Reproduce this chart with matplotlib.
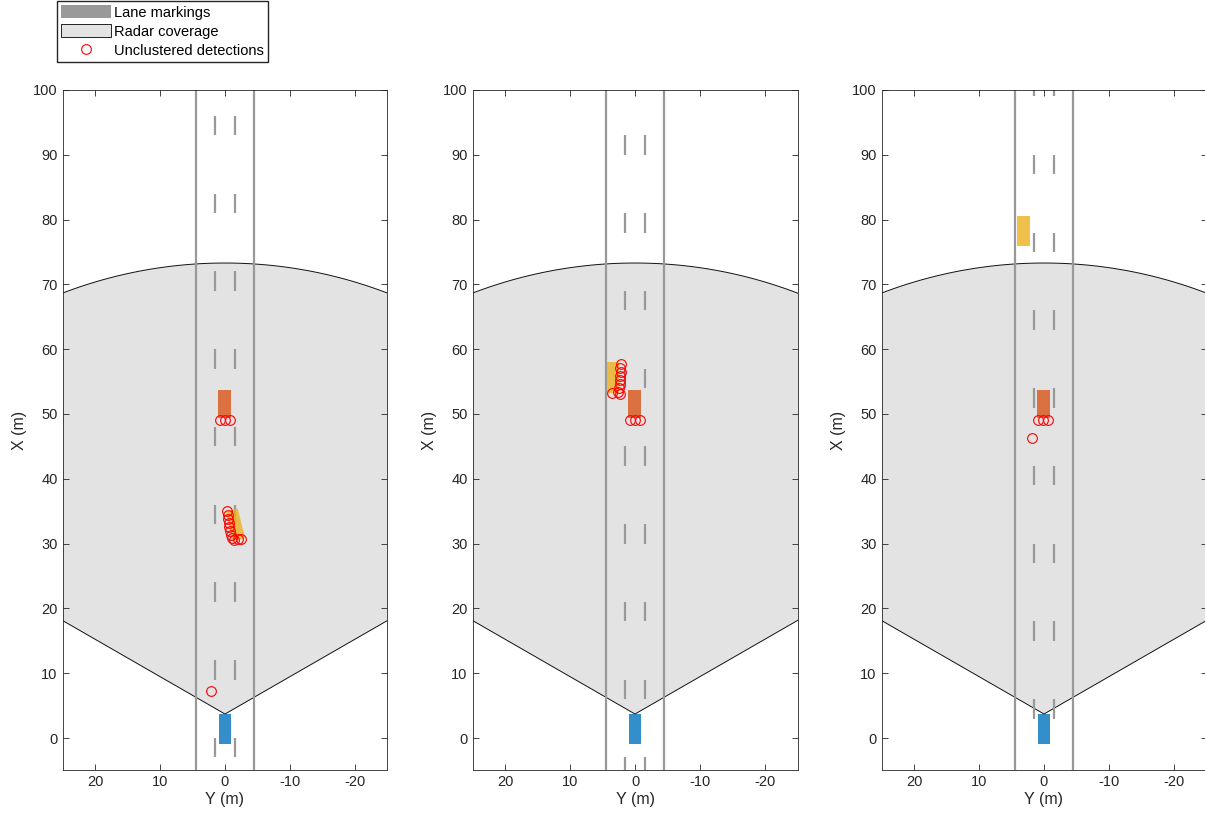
import numpy as np
import matplotlib.pyplot as plt
from matplotlib.patches import Polygon, Patch
from matplotlib.lines import Line2D

plt.rcParams['font.family'] = ['Liberation Sans', 'DejaVu Sans']
plt.rcParams['axes.unicode_minus'] = False

# radar coverage (same in all panels)
radar_pos = 3.7          # X position of radar (m)
radar_range = 69.6       # m
radar_fov = 120          # deg

# lane geometry
lane_edges = [4.5, -4.5]
lane_dash_y = [1.5, -1.5]
dash_len = 3
dash_period = 12
dash_start = [-3, -6, 3]   # first dash start X per panel

# ego vehicle
ego_x, ego_y, ego_len, ego_w = 1.35, 0.0, 4.7, 1.8

# other vehicles per panel: center X, center Y, length, width, yaw (deg)
red_cars = [(51.5, 0.1, 4.3, 1.9, 0), (51.5, 0.1, 4.3, 1.9, 0), (51.5, 0.1, 4.3, 1.9, 0)]
yellow_cars = [(32.9, -1.6, 4.7, 1.9, 14), (55.6, 3.4, 4.7, 1.8, 0), (78.2, 3.15, 4.6, 1.9, 0)]

# unclustered detections per panel (X, Y)
det_x = [
    [35.0, 34.4, 33.8, 33.2, 32.6, 31.9, 31.3, 30.9, 30.6, 30.7, 30.7, 49.1, 49.1, 49.1, 7.25],
    [57.7, 57.1, 56.5, 55.9, 55.2, 54.6, 54.0, 53.4, 53.1, 53.2, 49.1, 49.1, 49.1],
    [49.1, 49.1, 49.1, 46.3],
]
det_y = [
    [-0.31, -0.46, -0.46, -0.62, -0.62, -0.77, -0.92, -1.08, -1.38, -2.0, -2.46, 0.8, 0.0, -0.8, 2.15],
    [2.15, 2.3, 2.15, 2.3, 2.3, 2.3, 2.45, 2.6, 2.3, 3.55, 0.8, 0.0, -0.8],
    [0.9, 0.15, -0.6, 1.85],
]

blue = (0, 0.447, 0.741)
red = (0.85, 0.325, 0.098)
yellow = (0.929, 0.694, 0.125)
lane_col = '#999999'
cov_col = '#E3E3E3'


def car_poly(cx, cy, length, width, yaw):
    # corners in (X, Y) then swap to plot coords (Y horizontal, X vertical)
    a = np.deg2rad(yaw)
    pts = np.array([[length / 2, width / 2], [length / 2, -width / 2],
                    [-length / 2, -width / 2], [-length / 2, width / 2]])
    rot = np.array([[np.cos(a), -np.sin(a)], [np.sin(a), np.cos(a)]])
    pts = pts @ rot.T + [cx, cy]
    return pts[:, ::-1]


fig = plt.figure(figsize=(12.05, 8.25), dpi=100)
lefts = [62.5, 472.5, 881.5]

for i in range(3):
    ax = fig.add_axes([lefts[i] / 1205, 1 - 770.4 / 825, 325 / 1205, 680.4 / 825])

    # radar coverage
    ang = np.deg2rad(np.linspace(-radar_fov / 2, radar_fov / 2, 200))
    cov_x = np.concatenate([[radar_pos], radar_pos + radar_range * np.cos(ang)])
    cov_y = np.concatenate([[0], radar_range * np.sin(ang)])
    ax.add_patch(Polygon(np.column_stack([cov_y, cov_x]), closed=True,
                         facecolor=cov_col, edgecolor='#111111', lw=0.7, zorder=1))

    # lane markings
    for y in lane_edges:
        ax.plot([y, y], [-10, 110], color=lane_col, lw=1.6, zorder=2, solid_capstyle='butt')
    for y in lane_dash_y:
        x0 = dash_start[i]
        while x0 < 105:
            ax.plot([y, y], [x0, x0 + dash_len], color=lane_col, lw=1.6, zorder=2,
                    solid_capstyle='butt')
            x0 += dash_period

    # vehicles
    ax.add_patch(Polygon(car_poly(ego_x, ego_y, ego_len, ego_w, 0), facecolor=blue,
                         alpha=0.8, edgecolor='none', zorder=3))
    ax.add_patch(Polygon(car_poly(*red_cars[i]), facecolor=red, alpha=0.8,
                         edgecolor='none', zorder=3))
    ax.add_patch(Polygon(car_poly(*yellow_cars[i]), facecolor=yellow, alpha=0.8,
                         edgecolor='none', zorder=3))

    # detections
    ax.plot(det_y[i], det_x[i], 'o', mfc='none', mec='red', ms=7, mew=0.8, zorder=4)

    ax.set_xlim(25, -25)
    ax.set_ylim(-5, 100)
    ax.set_xticks([20, 10, 0, -10, -20])
    ax.set_yticks(np.arange(0, 101, 10))
    ax.tick_params(direction='in', top=True, right=True, length=4, labelsize=10.5,
                   colors='#262626', width=0.6)
    for s in ax.spines.values():
        s.set_linewidth(0.6)
        s.set_color('#262626')
    ax.set_xlabel('Y (m)', fontsize=11.5, color='#262626', labelpad=2)
    ax.set_ylabel('X (m)', fontsize=11.5, color='#262626', labelpad=4)

handles = [Patch(facecolor=lane_col, edgecolor='none'),
           Patch(facecolor=cov_col, edgecolor='black', lw=0.6),
           Line2D([], [], ls='none', marker='o', mfc='none', mec='red', ms=7, mew=0.8)]
fig.legend(handles, ['Lane markings', 'Radar coverage', 'Unclustered detections'],
           loc='upper left', bbox_to_anchor=(57 / 1205, 1 - 1 / 825), fontsize=10.5,
           frameon=True, fancybox=False, edgecolor='#262626', framealpha=1,
           borderpad=0.3, labelspacing=0.3, handlelength=3.4, handleheight=1.0,
           handletextpad=0.2, borderaxespad=0)

fig.savefig('out.png', dpi=100)
